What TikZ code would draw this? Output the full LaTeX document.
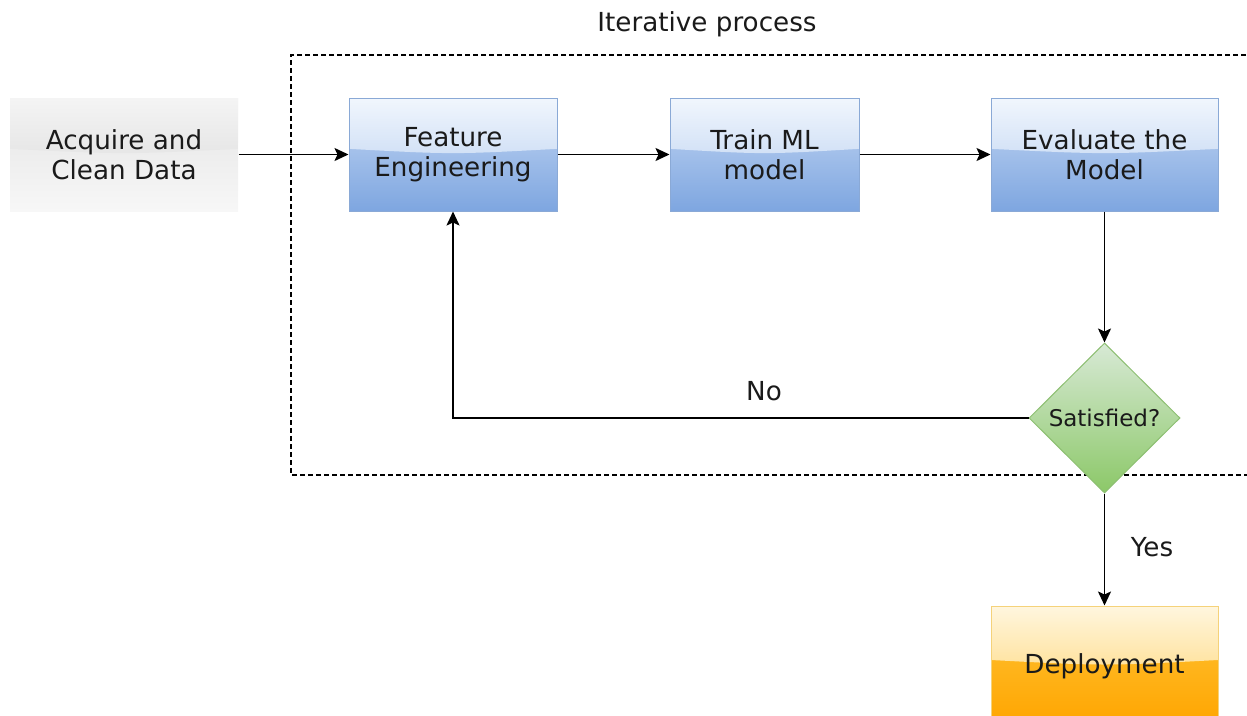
\documentclass[tikz,border=0pt]{standalone}
\usepackage{fontspec}
\setmainfont{DejaVu Sans}
\usetikzlibrary{arrows.meta,shapes.geometric,calc}
\definecolor{bTop}{HTML}{F1F6FD}
\definecolor{bMid}{HTML}{D2E1F6}
\definecolor{bLow}{HTML}{C4D7F3}
\definecolor{bBot}{HTML}{7EA6E0}
\definecolor{bDraw}{HTML}{8AA9D6}
\definecolor{oTop}{HTML}{FFF6DE}
\definecolor{oMid}{HTML}{FFE3A0}
\definecolor{oLow}{HTML}{FFC437}
\definecolor{oBot}{HTML}{FFA500}
\definecolor{oDraw}{HTML}{F5D27A}
\definecolor{gTop}{HTML}{F4F4F4}
\definecolor{gMid}{HTML}{E6E6E6}
\definecolor{gLow}{HTML}{E4E4E4}
\definecolor{gBot}{HTML}{F7F7F7}
\definecolor{grTop}{HTML}{D7E9D5}
\definecolor{grBot}{HTML}{8CC868}
\definecolor{grDraw}{HTML}{8DBF72}
\definecolor{txt}{HTML}{1A1A1A}
\begin{document}
\begin{tikzpicture}[x=1pt,y=1pt,
  lbl/.style={font=\fontsize{26.2}{30}\selectfont, text=txt},
  glassbox/.style n args={5}{
    lbl, align=center, inner sep=0pt,
    path picture={
      \coordinate (nw) at (path picture bounding box.north west);
      \coordinate (se) at (path picture bounding box.south east);
      \shade[top color=#3,bottom color=#4] (nw) rectangle (se);
      \shade[top color=#1,bottom color=#2] (nw) -- ($(nw)!0.45!(nw|-se)$)
        .. controls ($(nw)!0.5!(se)$) .. ($(nw-|se)!0.45!(se)$) -- (nw-|se) -- cycle;
    },
    draw=#5, line width=1pt
  },
  bluebox/.style={glassbox={bTop}{bMid}{bLow}{bBot}{bDraw}},
  orangebox/.style={glassbox={oTop}{oMid}{oLow}{oBot}{oDraw}},
  graybox/.style={glassbox={gTop}{gMid}{gLow}{gBot}{none}},
  decision/.style={shape=diamond, inner sep=0pt, aspect=1,
    minimum width=151pt, minimum height=150pt,
    top color=grTop, bottom color=grBot, draw=grDraw, line width=1pt,
    font=\fontsize{23}{27}\selectfont, text=txt},
  arr/.style={-{Stealth[length=14pt,width=13pt,inset=3pt]}, line width=1.8pt},
  iterbox/.style={dash pattern=on 5pt off 3pt, line width=1.6pt}
]
\useasboundingbox (0,0) rectangle (1247,-715);

% iterative region
\draw[iterbox] (1262,-55) -- (291,-55) -- (291,-475) -- (1262,-475);
\node[lbl] (title) at (707,-24) {Iterative process};

% boxes
\node[graybox, minimum width=228pt, minimum height=113pt] (acq) at (124,-154.5)
  {Acquire and\\Clean Data};
\node[bluebox, minimum width=208pt, minimum height=113pt] (fe) at (453,-154.5)
  {Feature\\Engineering};
\node[bluebox, minimum width=189pt, minimum height=113pt] (train) at (764.5,-154.5)
  {Train ML\\model};
\node[bluebox, minimum width=227pt, minimum height=113pt] (eval) at (1104.5,-154.5)
  {Evaluate the\\Model};
\node[decision] (sat) at (1104.5,-418) {Satisfied?};
\node[orangebox, minimum width=227pt, minimum height=120pt] (dep) at (1104.5,-666)
  {Deployment};

% connectors
\draw[arr] (acq) -- (fe);
\draw[arr] (fe) -- (train);
\draw[arr] (train) -- (eval);
\draw[arr] (eval) -- (sat);
\draw[arr] (sat.west) -| (fe.south);
\draw[arr] (sat) -- (dep);

% labels
\node[lbl] (no) at (764,-391) {No};
\node[lbl] (yes) at (1152,-547) {Yes};
\end{tikzpicture}
\end{document}
